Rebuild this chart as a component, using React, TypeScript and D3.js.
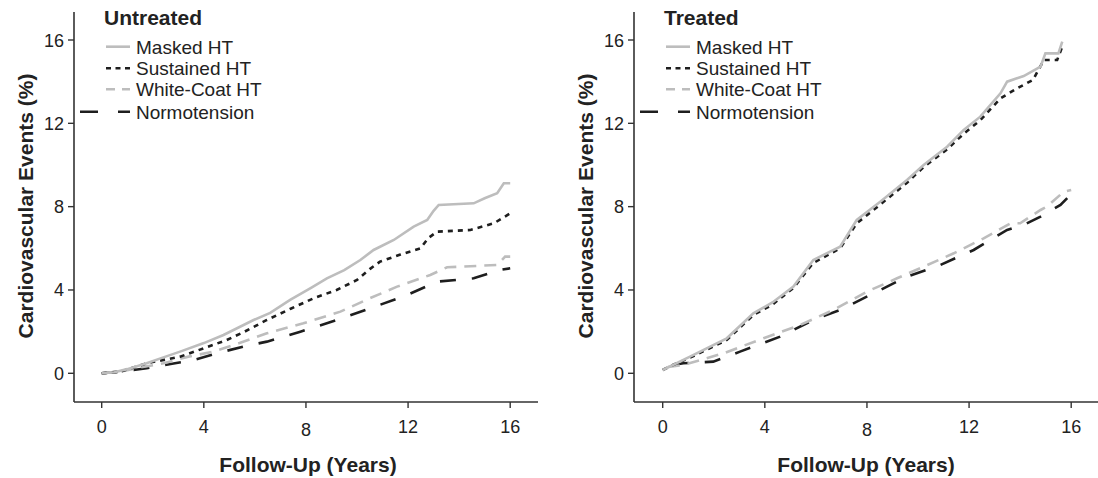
import React from "react";
import * as d3 from "d3";

type Pt = [number, number];

const xTicks = [0, 4, 8, 12, 16];
const yTicks = [0, 4, 8, 12, 16];
const seriesNames = ["Masked HT", "Sustained HT", "White-Coat HT", "Normotension"];
const panelTitles = ["Untreated", "Treated"];

const untreatedMasked: Pt[] = [[0,0],[0.5,0.05],[1.0,0.2],[1.76,0.48],[2.5,0.8],[3.07,1.04],[4.0,1.45],[4.77,1.84],[5.95,2.56],[6.6,2.9],[7.38,3.52],[8.2,4.1],[8.82,4.56],[9.5,4.95],[10.13,5.44],[10.65,5.92],[11.44,6.4],[12.22,7.04],[12.75,7.36],[13.0,7.8],[13.2,8.08],[14.57,8.16],[15.0,8.4],[15.49,8.64],[15.75,9.12],[16,9.12]];
const untreatedSustained: Pt[] = [[0,0],[0.72,0.08],[1.76,0.48],[3.07,0.8],[4.0,1.2],[4.9,1.6],[5.6,2.0],[6.47,2.56],[7.4,3.1],[8.3,3.6],[9.2,4.0],[10.0,4.48],[10.5,5.0],[10.9,5.36],[11.7,5.7],[12.48,6.0],[12.8,6.5],[13.14,6.8],[14.44,6.88],[15.36,7.2],[16,7.68]];
const untreatedWhiteCoat: Pt[] = [[0,0],[0.8,0.1],[1.6,0.3],[2.42,0.48],[3.4,0.8],[4.38,1.04],[5.4,1.45],[6.47,1.92],[7.9,2.4],[9.35,2.96],[10.5,3.6],[11.57,4.16],[12.87,4.72],[13.53,5.09],[15.49,5.2],[15.8,5.6],[16,5.6]];
const untreatedNormo: Pt[] = [[0,0],[0.72,0.08],[1.76,0.24],[2.7,0.45],[3.6,0.64],[4.77,1.04],[5.6,1.3],[6.47,1.52],[7.78,2.0],[9.22,2.56],[10.52,3.12],[11.96,3.76],[13.14,4.4],[14.57,4.56],[15.6,4.96],[16,5.04]];

const treatedMasked: Pt[] = [[0,0.16],[1.07,0.8],[2.51,1.68],[3.55,2.88],[4.3,3.4],[5.12,4.16],[5.9,5.44],[6.95,6.08],[7.6,7.36],[8.52,8.24],[9.57,9.28],[10.22,10.0],[11.14,10.88],[11.79,11.68],[12.44,12.32],[13.23,13.44],[13.49,14.0],[14.14,14.27],[14.8,14.72],[14.99,15.36],[15.5,15.36],[15.65,15.92]];
const treatedSustained: Pt[] = [[0,0.16],[0.4,0.4],[1.07,0.75],[2.51,1.6],[3.55,2.8],[4.3,3.3],[5.12,4.1],[5.9,5.3],[6.95,6.0],[7.6,7.2],[8.52,8.1],[9.57,9.15],[10.22,9.9],[11.14,10.75],[11.79,11.5],[12.44,12.15],[13.23,13.2],[13.88,13.68],[14.5,14.08],[14.93,15.04],[15.45,15.04],[15.65,15.68]];
const treatedWhiteCoat: Pt[] = [[0.2,0.3],[0.81,0.4],[2.38,0.96],[3.95,1.68],[5.38,2.32],[6.69,3.04],[8.0,3.92],[9.18,4.56],[10.22,5.12],[11.4,5.76],[12.57,6.48],[13.62,7.2],[14.0,7.2],[14.8,7.84],[15.05,8.0],[15.71,8.72],[16.0,8.8]];
const treatedNormo: Pt[] = [[0.4,0.4],[0.81,0.48],[1.98,0.56],[3.03,1.04],[4.6,1.76],[5.9,2.56],[6.95,3.04],[8.26,3.84],[9.57,4.64],[10.87,5.2],[12.18,5.92],[13.49,6.88],[14.14,7.12],[14.8,7.52],[15.58,8.08],[15.97,8.56]];

const panelData: Pt[][][] = [
  [untreatedMasked, untreatedSustained, untreatedWhiteCoat, untreatedNormo],
  [treatedMasked, treatedSustained, treatedWhiteCoat, treatedNormo],
];

const GRAY = "#bdbdbd";
const DARK = "#1e1e1e";
const styles = [
  { stroke: GRAY, dash: "none", legendDash: "none" },
  { stroke: DARK, dash: "5,5", legendDash: "5,4.5" },
  { stroke: GRAY, dash: "12,8", legendDash: "9,7" },
  { stroke: DARK, dash: "16,16", legendDash: "18,20" },
];

const FONT = "'Liberation Sans', Arial, Helvetica, sans-serif";
const TXT = "#222";

function Panel({ idx }: { idx: number }) {
  const axisX = idx === 0 ? 74 : 634;
  const x0 = idx === 0 ? 101.7 : 662.7;
  const xEnd = idx === 0 ? 538 : 1098;
  const x = d3.scaleLinear().domain([0, 16]).range([x0, x0 + 408.5]);
  const y = d3.scaleLinear().domain([0, 16]).range([373.3, 40]);
  const axisY = 402;
  const line = d3.line<Pt>().x((d) => x(d[0])).y((d) => y(d[1])).curve(d3.curveLinear);
  const data = panelData[idx];
  const rowY = [46.7, 68.3, 89.3, 111.7];
  return (
    <g>
      <line x1={axisX} x2={axisX} y1={12} y2={axisY} stroke="#333" strokeWidth={1.6} />
      <line x1={axisX} x2={xEnd} y1={axisY} y2={axisY} stroke="#333" strokeWidth={1.6} />
      {yTicks.map((t) => (
        <g key={"y" + t}>
          <line x1={axisX - 6} x2={axisX} y1={y(t)} y2={y(t)} stroke="#333" strokeWidth={1.4} />
          <text x={axisX - 10} y={y(t) + 6.5} textAnchor="end" fontSize={18} fontFamily={FONT} fill={TXT}>{t}</text>
        </g>
      ))}
      {xTicks.map((t) => (
        <g key={"x" + t}>
          <line x1={x(t)} x2={x(t)} y1={axisY} y2={axisY + 6} stroke="#333" strokeWidth={1.4} />
          <text x={x(t)} y={t === 8 ? 436 : 433} textAnchor="middle" fontSize={18} fontFamily={FONT} fill={TXT}>{t}</text>
        </g>
      ))}
      <text x={(axisX + xEnd) / 2 + (idx === 0 ? 2 : 0)} y={472} textAnchor="middle" fontSize={21} fontWeight="bold" fontFamily={FONT} fill={TXT}>Follow-Up (Years)</text>
      <text transform={`translate(${axisX - 41.5},206) rotate(-90)`} textAnchor="middle" fontSize={21} fontWeight="bold" fontFamily={FONT} fill={TXT}>Cardiovascular Events (%)</text>
      {[3, 2, 1, 0].map((s) => (
        <path key={s} d={line(data[s]) || ""} fill="none" stroke={styles[s].stroke} strokeWidth={2.6} strokeDasharray={styles[s].dash} />
      ))}
      <text x={axisX + 30} y={25} fontSize={21} fontWeight="bold" fontFamily={FONT} fill={TXT}>{panelTitles[idx]}</text>
      {seriesNames.map((n, s) => (
        <g key={n}>
          <line x1={s === 3 ? axisX + 6 : axisX + 32} x2={axisX + 56} y1={rowY[s]} y2={rowY[s]} stroke={styles[s].stroke} strokeWidth={2.6} strokeDasharray={styles[s].legendDash} />
          <text x={axisX + 62} y={rowY[s] + 6.8} fontSize={19} fontFamily={FONT} fill={TXT}>{n}</text>
        </g>
      ))}
    </g>
  );
}

export default function App() {
  return (
    <svg width={1098} height={478} style={{ position: "absolute", left: 0, top: 0, background: "#fff" }}>
      <rect width={1098} height={478} fill="#fff" />
      <Panel idx={0} />
      <Panel idx={1} />
    </svg>
  );
}
